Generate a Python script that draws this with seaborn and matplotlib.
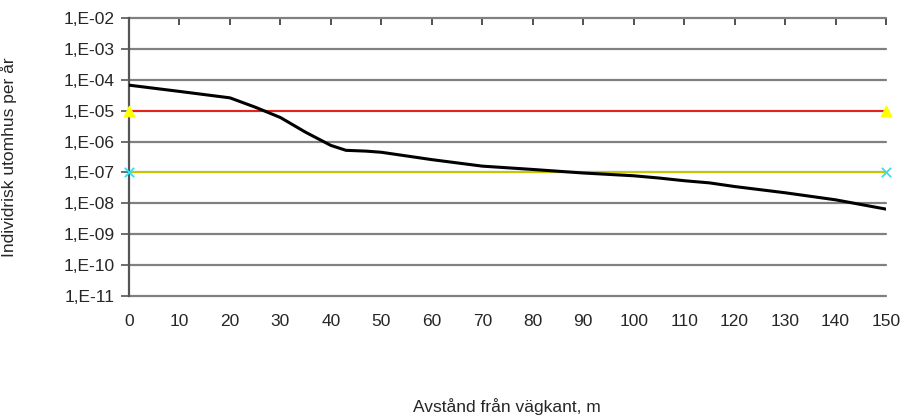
import numpy as np
import pandas as pd
import matplotlib
matplotlib.use("Agg")
import matplotlib.pyplot as plt
import seaborn as sns

# distance from road edge (m) and individual risk per year
distance = [0, 10, 20, 25, 30, 35, 40, 43, 47, 50, 60, 70, 80, 90, 100, 105, 110, 115, 120, 130, 140, 150]
risk = [6.7e-5, 4.2e-5, 2.6e-5, 1.3e-5, 6.0e-6, 2.0e-6, 7.5e-7, 5.2e-7, 4.9e-7, 4.5e-7,
        2.6e-7, 1.6e-7, 1.25e-7, 9.6e-8, 7.8e-8, 6.6e-8, 5.4e-8, 4.6e-8, 3.5e-8, 2.2e-8, 1.3e-8, 6.5e-9]

# criteria lines
upper_x = [0, 150]
upper_y = [1e-5, 1e-5]
lower_x = [0, 150]
lower_y = [1e-7, 1e-7]

y_ticks = [1e-2, 1e-3, 1e-4, 1e-5, 1e-6, 1e-7, 1e-8, 1e-9, 1e-10, 1e-11]
y_labels = ["1,E-02", "1,E-03", "1,E-04", "1,E-05", "1,E-06",
            "1,E-07", "1,E-08", "1,E-09", "1,E-10", "1,E-11"]
x_ticks = list(range(0, 151, 10))

sns.set_style("white")
plt.rcParams['font.family'] = ['Liberation Sans', 'DejaVu Sans']

fig = plt.figure(figsize=(9.05, 4.16), dpi=100)
ax = fig.add_axes([129 / 905, 1 - 296 / 416, (886 - 129) / 905, (296 - 18) / 416])

ax.set_yscale('log')
ax.set_xlim(0, 150)
ax.set_ylim(1e-11, 1e-2)

# horizontal gridlines at each decade
for yv in y_ticks:
    ax.axhline(yv, color='#808080', lw=1.6, zorder=1, clip_on=False)

df = pd.DataFrame({'Avstånd': distance, 'Risk': risk})
sns.lineplot(data=df, x='Avstånd', y='Risk', ax=ax, color='black', lw=2.2, zorder=4)

sns.lineplot(x=upper_x, y=upper_y, ax=ax, color='#e8201a', lw=1.4, zorder=3)
ax.scatter(upper_x, upper_y, marker='^', s=55, color='#ffff00', zorder=5, clip_on=False)
sns.lineplot(x=lower_x, y=lower_y, ax=ax, color='#c8c800', lw=1.4, zorder=3)
ax.scatter(lower_x, lower_y, marker='x', s=45, color='#33e0f0', linewidths=1.3, zorder=5, clip_on=False)

for side in ['top', 'right', 'bottom']:
    ax.spines[side].set_visible(False)
ax.spines['left'].set_color('#555555')
ax.spines['left'].set_linewidth(1.6)

ax.set_yticks(y_ticks)
ax.set_yticklabels(y_labels)
ax.minorticks_off()
ax.set_xticks(x_ticks)
ax.set_xticklabels([str(v) for v in x_ticks])
ax.tick_params(axis='y', left=True, direction='out', length=6, width=1.2, color='#555555',
               labelsize=12.5, pad=4)
ax.tick_params(axis='x', top=True, bottom=False, labeltop=False, labelbottom=True,
               direction='in', length=5, width=1.2, color='#333333', labelsize=12.5, pad=13)

ax.set_xlabel('')
fig.text(507 / 905, 1 - 407 / 416, 'Avstånd från vägkant, m', fontsize=12.5,
         ha='center', va='center')
ax.set_ylabel('Individrisk utomhus per år', fontsize=12.5)
ax.yaxis.set_label_coords(-112 / 757, 0.5)

fig.savefig('out.png', dpi=100)
